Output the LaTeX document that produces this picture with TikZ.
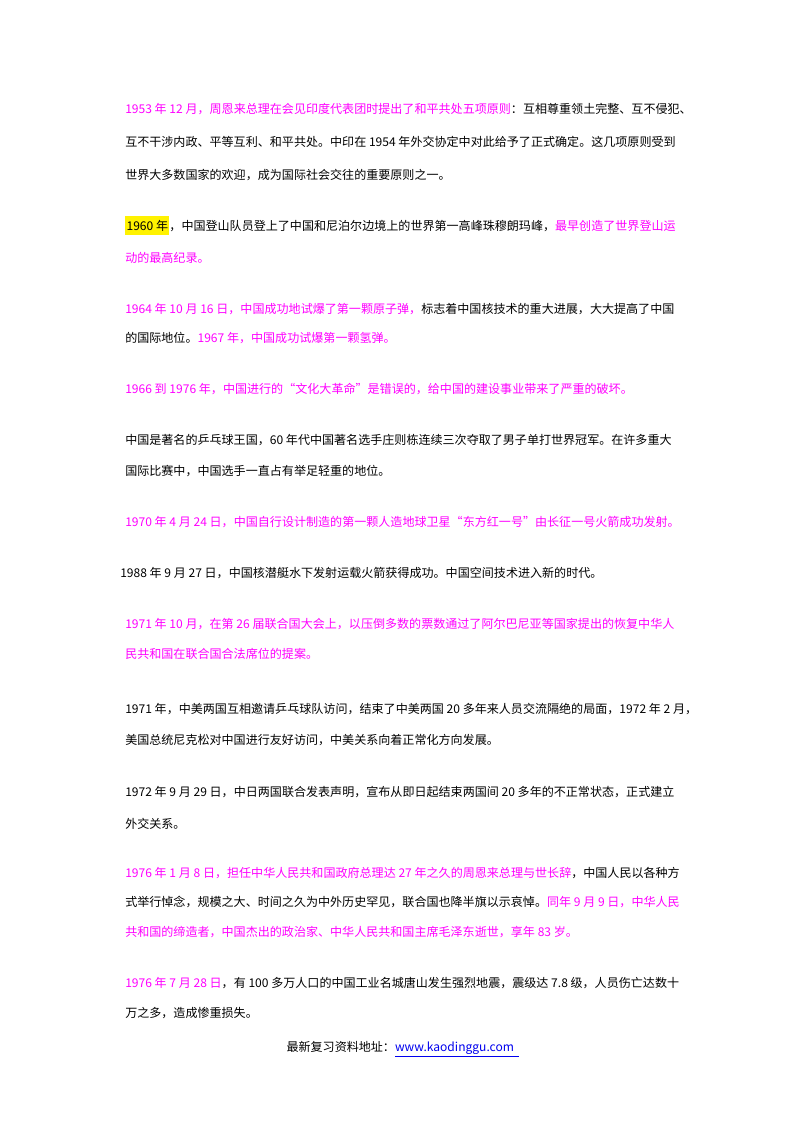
\documentclass[tikz,border=0pt]{standalone}
\usepackage{fontspec}
\usepackage{xcolor}
\setmainfont{Noto Sans CJK SC}
\definecolor{pinkline}{RGB}{255,0,255}
\definecolor{linkblue}{RGB}{0,0,238}
\newcommand{\mg}[1]{\textcolor{pinkline}{#1}}

\begin{document}
\begin{tikzpicture}[x=0.02625cm, y=-0.02625cm,
	line/.style={anchor=base west, inner sep=0pt, font=\fontsize{9pt}{11pt}\selectfont}]
	% Paths, nodes and wires:
	\useasboundingbox (0,0) rectangle (800,1132);
	\node[line] (l1) at (125,113){\mg{1953 年 12 月，周恩来总理在会见印度代表团时提出了和平共处五项原则}：互相尊重领土完整、互不侵犯、};
	\node[line] (l2) at (125,146){互不干涉内政、平等互利、和平共处。中印在 1954 年外交协定中对此给予了正式确定。这几项原则受到};
	\node[line] (l3) at (125,179){世界大多数国家的欢迎，成为国际社会交往的重要原则之一。};
	\node[line] (l4) at (125,230){\colorbox{yellow}{\kern-2pt 1960 年\kern-2pt}，中国登山队员登上了中国和尼泊尔边境上的世界第一高峰珠穆朗玛峰，\mg{最早创造了世界登山运}};
	\node[line] (l5) at (125,262){\mg{动的最高纪录。}};
	\node[line] (l6) at (125,313){\mg{1964 年 10 月 16 日，中国成功地试爆了第一颗原子弹，}标志着中国核技术的重大进展，大大提高了中国};
	\node[line] (l7) at (125,342){的国际地位。\mg{1967 年，中国成功试爆第一颗氢弹。}};
	\node[line] (l8) at (125,393){\mg{1966 到 1976 年，中国进行的“文化大革命”是错误的，给中国的建设事业带来了严重的破坏。}};
	\node[line] (l9) at (125,444){中国是著名的乒乓球王国，60 年代中国著名选手庄则栋连续三次夺取了男子单打世界冠军。在许多重大};
	\node[line] (l10) at (125,475){国际比赛中，中国选手一直占有举足轻重的地位。};
	\node[line] (l11) at (125,526){\mg{1970 年 4 月 24 日，中国自行设计制造的第一颗人造地球卫星“东方红一号”由长征一号火箭成功发射。}};
	\node[line] (l12) at (120,577){1988 年 9 月 27 日，中国核潜艇水下发射运载火箭获得成功。中国空间技术进入新的时代。};
	\node[line] (l13) at (125,628){\mg{1971 年 10 月，在第 26 届联合国大会上，以压倒多数的票数通过了阿尔巴尼亚等国家提出的恢复中华人}};
	\node[line] (l14) at (125,658){\mg{民共和国在联合国合法席位的提案。}};
	\node[line] (l15) at (125,713){1971 年，中美两国互相邀请乒乓球队访问，结束了中美两国 20 多年来人员交流隔绝的局面，1972 年 2 月，};
	\node[line] (l16) at (125,744){美国总统尼克松对中国进行友好访问，中美关系向着正常化方向发展。};
	\node[line] (l17) at (125,796){1972 年 9 月 29 日，中日两国联合发表声明，宣布从即日起结束两国间 20 多年的不正常状态，正式建立};
	\node[line] (l18) at (125,828){外交关系。};
	\node[line] (l19) at (125,877){\mg{1976 年 1 月 8 日，担任中华人民共和国政府总理达 27 年之久的周恩来总理与世长辞}，中国人民以各种方};
	\node[line] (l20) at (125,906){式举行悼念，规模之大、时间之久为中外历史罕见，联合国也降半旗以示哀悼。\mg{同年 9 月 9 日，中华人民}};
	\node[line] (l21) at (125,936){\mg{共和国的缔造者，中国杰出的政治家、中华人民共和国主席毛泽东逝世，享年 83 岁。}};
	\node[line] (l22) at (125,987){\mg{1976 年 7 月 28 日}，有 100 多万人口的中国工业名城唐山发生强烈地震，震级达 7.8 级，人员伤亡达数十};
	\node[line] (l23) at (125,1017){万之多，造成惨重损失。};
	\node[line, anchor=base] (foot) at (403,1051){最新复习资料地址：\textcolor{linkblue}{\underline{www.kaodinggu.com\ \ }}};
\end{tikzpicture}
\end{document}
